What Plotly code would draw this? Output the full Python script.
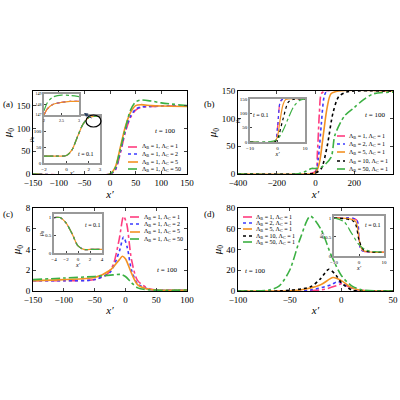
import plotly.graph_objects as go

# ---------- data ----------
# panel (a) main: Lambda_B=1, Lambda_C = 1,2,5,50
a_x = [-150, 0, 10, 20, 30, 40, 50, 60, 80, 100, 150]
a_c1 = [0, 0, 8, 45, 92, 124, 140, 146, 148, 149, 149]
a_c2 = [0, 0, 9, 48, 96, 127, 142, 147, 148, 149, 149]
a_c5 = [0, 0, 14, 58, 104, 135, 150, 152, 150, 149, 148]
a_c50 = [0, 0, 13, 54, 100, 140, 158, 162, 160, 156, 150]
ai_x = [-2, -1, 0, 0.5, 1, 1.5, 2, 2.5, 3]
ai_y = [22, 22, 24, 42, 85, 125, 145, 149, 150]
az_x = [2, 2.1, 2.25, 2.5, 2.75, 3]
az_lo = [147.0, 147.6, 148.0, 148.2, 148.3, 148.3]
az_g = [147.4, 148.2, 148.7, 148.9, 148.85, 148.75]
a_names = ["Λ<sub>B</sub> = 1, Λ<sub>C</sub> = 1", "Λ<sub>B</sub> = 1, Λ<sub>C</sub> = 2",
           "Λ<sub>B</sub> = 1, Λ<sub>C</sub> = 5", "Λ<sub>B</sub> = 1, Λ<sub>C</sub> = 50"]

# panel (b)
b1_x = [-400, -50, 0, 10, 20, 30, 50, 400]; b1_y = [0, 0, 5, 40, 110, 145, 150, 150]
b2_x = [-400, -50, 0, 15, 30, 45, 60, 400]; b2_y = [0, 0, 3, 30, 90, 140, 150, 150]
b5_x = [-400, -50, 0, 20, 40, 60, 80, 120, 400]; b5_y = [0, 0, 2, 20, 70, 120, 145, 150, 150]
b10_x = [-400, -50, 0, 30, 60, 90, 120, 160, 200, 400]; b10_y = [0, 0, 2, 10, 50, 110, 140, 148, 150, 150]
b50_x = [-400, -100, -50, -20, 0, 30, 80, 100, 150, 200, 250, 300, 400]
b50_y = [0, 0, 5, 10, 10, 12, 30, 70, 105, 120, 135, 145, 148]
bi1_x = [-10, -1, 0, 1, 2, 10]; bi1_y = [0, 2, 50, 140, 150, 150]
bi5_x = [-10, -1, 0, 1, 2, 3, 10]; bi5_y = [0, 1, 20, 80, 130, 148, 150]
bi10_x = [-10, -1, 0, 2, 4, 6, 10]; bi10_y = [0, 1, 10, 80, 140, 149, 150]
bi50_x = [-10, -2, 0, 2, 4, 6, 8, 10]; bi50_y = [0, 2, 10, 40, 85, 125, 145, 150]
b_names = ["Λ<sub>B</sub> = 1, Λ<sub>C</sub> = 1", "Λ<sub>B</sub> = 2, Λ<sub>C</sub> = 1",
           "Λ<sub>B</sub> = 5, Λ<sub>C</sub> = 1", "Λ<sub>B</sub> = 10, Λ<sub>C</sub> = 1",
           "Λ<sub>B</sub> = 50, Λ<sub>C</sub> = 1"]

# panel (c)
c1_x = [-150, -100, -50, -30, -20, -10, -3, 2, 10, 20, 40, 100]; c1_y = [1.0, 1.0, 1.1, 1.6, 2.5, 5.0, 7.2, 6.5, 3.0, 1.0, 0.2, 0.1]
c2_x = [-150, -100, -50, -25, -10, -3, 3, 10, 20, 40, 100]; c2_y = [1.0, 1.0, 1.1, 1.8, 3.8, 5.2, 4.2, 2.0, 0.7, 0.15, 0.1]
c5_x = [-150, -100, -50, -25, -10, -5, 0, 10, 20, 40, 100]; c5_y = [1.0, 1.1, 1.3, 2.0, 3.0, 3.35, 3.1, 1.7, 0.6, 0.15, 0.1]
c50_x = [-150, -100, -50, -20, -8, 0, 10, 20, 40, 100]; c50_y = [1.1, 1.25, 1.4, 1.55, 1.6, 1.4, 0.8, 0.3, 0.1, 0.1]
ci_x = [-4, -3, -2, -1, 0, 1, 2, 4]; ci_y = [1.0, 1.0, 0.85, 0.55, 0.2, 0.1, 0.1, 0.1]
c_names = a_names

# panel (d)
d1_x = [-100, -20, -5, 0, 5, 15, 25, 50]; d1_y = [0, 1, 5, 7, 5, 1.5, 0, 0]
d2_x = [-100, -30, -10, -3, 5, 15, 25, 50]; d2_y = [0, 1, 6, 9, 5, 1, 0, 0]
d5_x = [-100, -40, -20, -8, 0, 10, 20, 50]; d5_y = [0, 1, 6, 13, 10, 3, 0.5, 0]
d10_x = [-100, -60, -30, -20, -12, -5, 0, 10, 20, 50]; d10_y = [0, 0, 4, 12, 21, 15, 8, 1, 0, 0]
d50_x = [-100, -70, -60, -50, -40, -30, -20, -10, 0, 10, 20, 50]; d50_y = [0, 1, 5, 20, 50, 72, 60, 35, 15, 5, 1, 0]
di1_x = [-10, -1, 0, 1, 10]; di1_y = [1, 0.95, 0.5, 0.15, 0.1]
di5_x = [-10, -1.5, 0, 1.5, 10]; di5_y = [1, 0.92, 0.45, 0.15, 0.1]
di10_x = [-10, -2, 0, 2, 10]; di10_y = [1, 0.9, 0.42, 0.15, 0.1]
di50_x = [-10, -6, -3, 0, 3, 10]; di50_y = [1, 0.9, 0.6, 0.3, 0.15, 0.1]

# ---------- styles ----------
PINK, BLUE, ORANGE, BLACK, GREEN = "#ff3d7f", "#3b3bff", "#f39224", "#000000", "#3cb043"
STY = {"c1": (PINK, "dashdot"), "c2": (BLUE, "dot"), "c5": (ORANGE, "solid"),
       "c10": (BLACK, "dot"), "c50": (GREEN, "dashdot")}
FONT = "Liberation Serif"

fig = go.Figure()

def add(x, y, key, ax, w=1.6):
    col, dash = STY[key]
    fig.add_trace(go.Scatter(x=x, y=y, mode="lines", line=dict(color=col, dash=dash, width=w, shape="spline", smoothing=0.8),
                             showlegend=False, hoverinfo="skip", xaxis="x" + ax, yaxis="y" + ax))

# (a)
for k, y in zip(["c1", "c2", "c5", "c50"], [a_c1, a_c2, a_c5, a_c50]):
    add(a_x, y, k, "")
for k in ["c1", "c2", "c5", "c50"]:
    add(ai_x, ai_y, k, "5", w=1.2)
for k in ["c1", "c2", "c5"]:
    add(az_x, az_lo, k, "6", w=1.2)
add(az_x, az_g, "c50", "6", w=1.2)
# (b)
for k, x, y in zip(["c1", "c2", "c5", "c10", "c50"], [b1_x, b2_x, b5_x, b10_x, b50_x],
                   [b1_y, b2_y, b5_y, b10_y, b50_y]):
    add(x, y, k, "2")
for k, x, y in zip(["c1", "c2", "c5", "c10", "c50"], [bi1_x, bi1_x, bi5_x, bi10_x, bi50_x],
                   [bi1_y, bi1_y, bi5_y, bi10_y, bi50_y]):
    add(x, y, k, "7", w=1.2)
# (c)
for k, x, y in zip(["c1", "c2", "c5", "c50"], [c1_x, c2_x, c5_x, c50_x], [c1_y, c2_y, c5_y, c50_y]):
    add(x, y, k, "3")
for k in ["c1", "c2", "c5", "c50"]:
    add(ci_x, ci_y, k, "8", w=1.2)
# (d)
for k, x, y in zip(["c1", "c2", "c5", "c10", "c50"], [d1_x, d2_x, d5_x, d10_x, d50_x],
                   [d1_y, d2_y, d5_y, d10_y, d50_y]):
    add(x, y, k, "4")
for k, x, y in zip(["c1", "c2", "c5", "c10", "c50"], [di1_x, di1_x, di5_x, di10_x, di50_x],
                   [di1_y, di1_y, di5_y, di10_y, di50_y]):
    add(x, y, k, "9", w=1.2)

def P(px, W=400):
    return px / W

def main_axis(dom, rng, dtick, title, anchor, fs=9):
    return dict(domain=dom, range=rng, dtick=dtick, showline=True, mirror="ticks", linecolor="black",
                linewidth=1, ticks="inside", ticklen=3, showgrid=False, zeroline=False, anchor=anchor,
                automargin=False, tickfont=dict(size=fs, family=FONT, color="black"),
                title=dict(text=title, font=dict(size=11, family=FONT), standoff=2))

def inset_axis(dom, rng, tickvals, title, anchor, fs=5):
    return dict(domain=dom, range=rng, tickvals=tickvals, showline=True, mirror=True, linecolor="#999999",
                linewidth=1.5, ticks="inside", ticklen=2, showgrid=False, zeroline=False, anchor=anchor,
                automargin=False, tickfont=dict(size=fs, family=FONT, color="black"),
                title=dict(text=title, font=dict(size=6, family=FONT), standoff=0))

xa = [P(33), P(187)]; xb = [P(238), P(393)]
ytop = [1 - P(174), 1 - P(91)]; ybot = [1 - P(291), 1 - P(208)]

lay = dict(width=400, height=400, margin=dict(l=0, r=0, t=0, b=0), plot_bgcolor="white", paper_bgcolor="white",
           font=dict(family=FONT, color="black"))
lay["xaxis"] = main_axis(xa, [-150, 150], 50, "<i>x′</i>", "y")
lay["yaxis"] = main_axis(ytop, [0, 182], 50, "<i>μ</i><sub>0</sub>", "x")
lay["xaxis2"] = main_axis(xb, [-400, 400], 200, "<i>x′</i>", "y2")
lay["yaxis2"] = main_axis(ytop, [0, 150], 50, "<i>μ</i><sub>0</sub>", "x2")
lay["xaxis3"] = main_axis(xa, [-150, 100], 50, "<i>x′</i>", "y3")
lay["yaxis3"] = main_axis(ybot, [0, 8], 2, "<i>μ</i><sub>0</sub>", "x3")
lay["xaxis4"] = main_axis(xb, [-100, 50], 50, "<i>x′</i>", "y4")
lay["yaxis4"] = main_axis(ybot, [0, 80], 20, "<i>μ</i><sub>0</sub>", "x4")
# insets
lay["xaxis5"] = inset_axis([P(44), P(100)], [-2, 3], [-2, 0, 2, 3], "<i>x′</i>", "y5")
lay["yaxis5"] = inset_axis([1 - P(163), 1 - P(116)], [0, 150], [0, 50, 100], "<i>μ</i><sub>0</sub>", "x5")
lay["xaxis6"] = inset_axis([P(44), P(79)], [2, 3], [2, 2.5, 3], "", "y6", 4)
lay["yaxis6"] = inset_axis([1 - P(115), 1 - P(94)], [147, 149], [147, 148, 149], "", "x6", 4)
lay["xaxis7"] = inset_axis([P(250), P(305)], [-10, 10], [-10, 0, 10], "<i>x′</i>", "y7")
lay["yaxis7"] = inset_axis([1 - P(142), 1 - P(99)], [0, 150], [0, 50, 100, 150], "<i>μ</i><sub>0</sub>", "x7")
lay["xaxis8"] = inset_axis([P(54), P(102)], [-4, 4], [-4, -2, 0, 2, 4], "<i>x′</i>", "y8")
lay["yaxis8"] = inset_axis([1 - P(253), 1 - P(214)], [0, 1.1], [0, 0.5, 1], "<i>μ</i><sub>0</sub>", "x8")
lay["xaxis9"] = inset_axis([P(334), P(384)], [-10, 10], [-10, 0, 10], "<i>x′</i>", "y9")
lay["yaxis9"] = inset_axis([1 - P(256), 1 - P(216)], [0, 1.05], [0, 0.5, 1], "<i>μ</i><sub>0</sub>", "x9")

def ann(x, y, t, s=9, xa="center"):
    return dict(x=P(x), y=1 - P(y), xref="paper", yref="paper", text=t, showarrow=False, xanchor=xa,
                font=dict(size=s, family=FONT))

annotations = [
    ann(8, 97, "(a)"), ann(209, 97, "(b)"), ann(8, 214, "(c)"), ann(209, 214, "(d)"),
    ann(165, 125, "<i>t</i> = 100", 7), ann(375, 109, "<i>t</i> = 100", 7),
    ann(167, 276, "<i>t</i> = 100", 7), ann(255, 277, "<i>t</i> = 100", 7),
    ann(86, 154, "<i>t</i> = 0.1", 6), ann(261, 110, "<i>t</i> = 0.1", 6),
    ann(93, 225, "<i>t</i> = 0.1", 6), ann(373, 225, "<i>t</i> = 0.1", 6),
    dict(x=P(84), y=1 - P(113), ax=9, ay=6, xref="paper", yref="paper", axref="pixel", ayref="pixel",
         text="", showarrow=True, arrowhead=2, arrowsize=0.8, arrowwidth=1),
]
shapes = [dict(type="circle", xref="paper", yref="paper", x0=P(86), x1=P(101), y0=1 - P(127), y1=1 - P(115),
               line=dict(color="black", width=1.2))]

# manual legends
def legend(keys, names, x0, x1, rows):
    for k, n, r in zip(keys, names, rows):
        col, dash = STY[k]
        shapes.append(dict(type="line", xref="paper", yref="paper", x0=P(x0), x1=P(x1), y0=1 - P(r), y1=1 - P(r),
                           line=dict(color=col, dash=dash, width=1.6)))
        annotations.append(ann(x1 + 1.5, r, n, 6, "left"))

legend(["c1", "c2", "c5", "c50"], a_names, 128, 138, [147, 154, 162, 169])
legend(["c1", "c2", "c5", "c10", "c50"], b_names, 337, 345, [136, 144, 152, 161, 169])
legend(["c1", "c2", "c5", "c50"], c_names, 130, 140, [217, 224, 232, 239])
legend(["c1", "c2", "c5", "c10", "c50"], b_names, 243, 252, [217, 223, 229, 236, 242])

lay["annotations"] = annotations
lay["shapes"] = shapes
fig.update_layout(**lay)
fig.write_html("out.html", config={"displayModeBar": False},
               post_script="document.body.style.margin='0';document.body.style.overflow='hidden';")
